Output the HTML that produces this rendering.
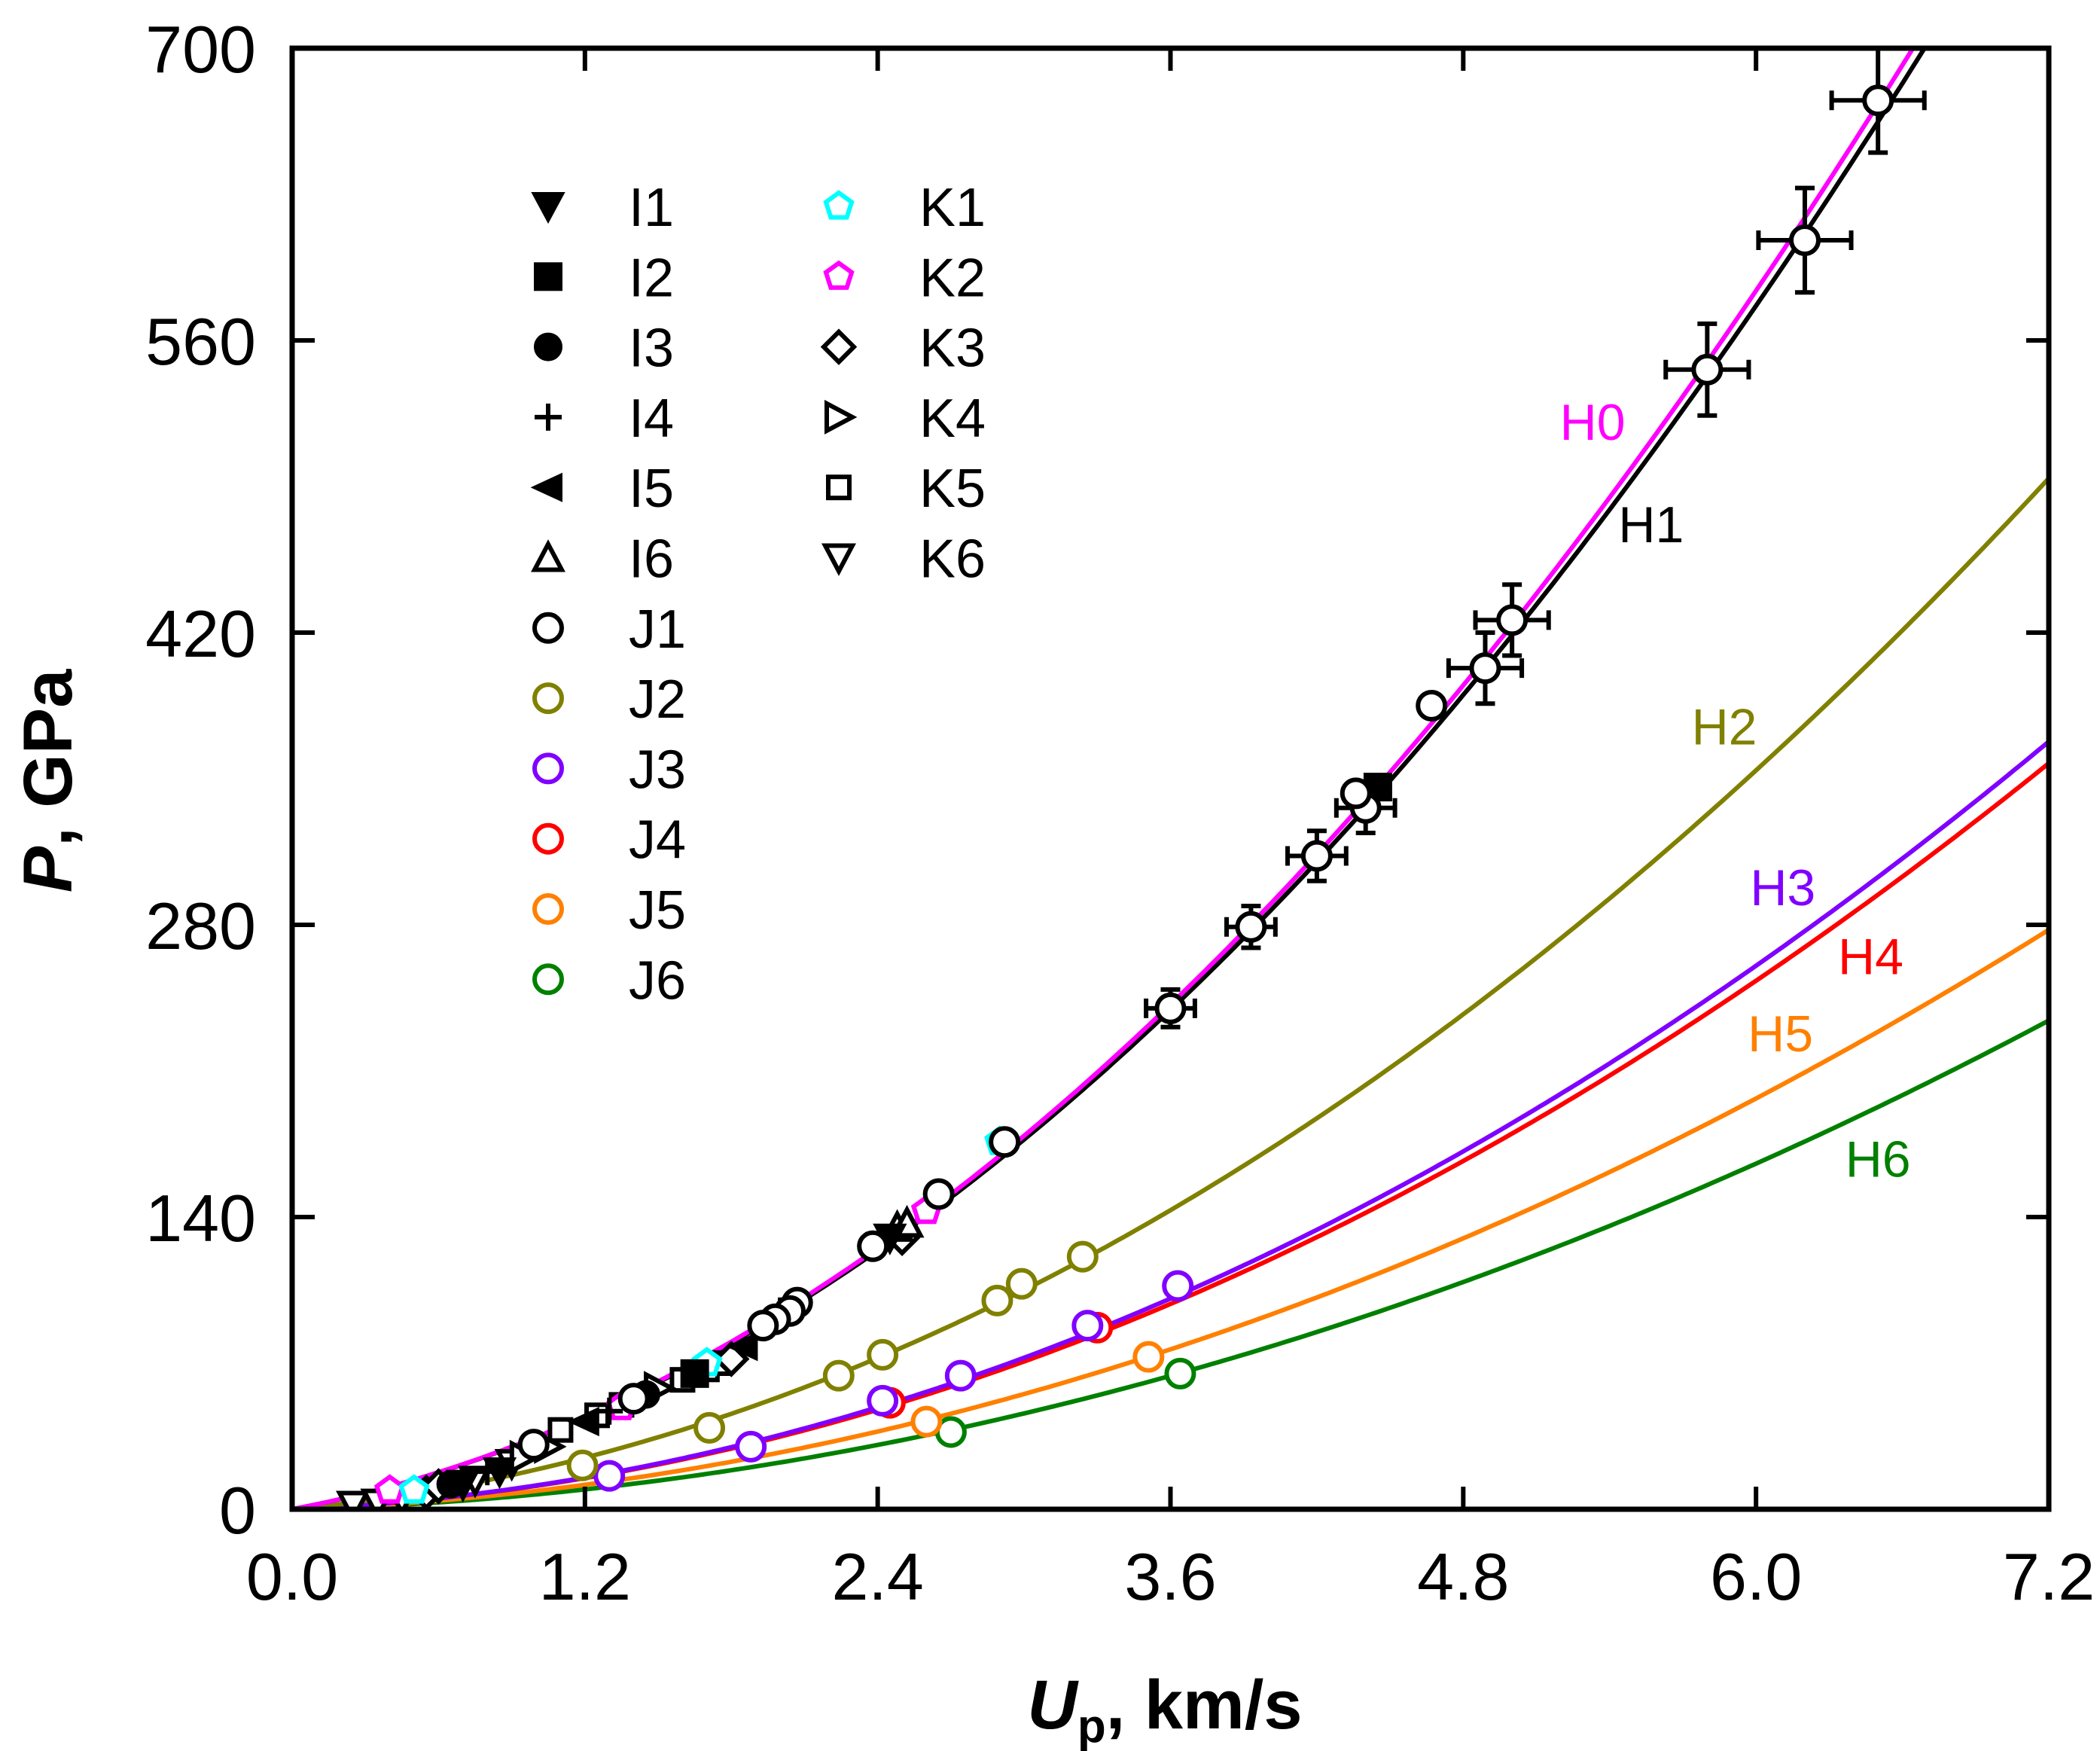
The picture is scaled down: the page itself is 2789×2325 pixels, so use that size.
<!DOCTYPE html>
<html><head><meta charset="utf-8"><style>
html,body{margin:0;padding:0;background:#fff}
svg{display:block}
text{font-family:"Liberation Sans",Arial,sans-serif}
</style></head><body>
<svg id="chart" width="2789" height="2325" viewBox="0 0 2789 2325" xmlns="http://www.w3.org/2000/svg"></svg>
<script>
// ---- data ----
const xTicks = [0.0, 1.2, 2.4, 3.6, 4.8, 6.0, 7.2];
const yTicks = [0, 140, 280, 420, 560, 700];
const curveNames = ['H0','H1','H2','H3','H4','H5','H6'];
const curveA = [22, 22, 11, 5, 5, 4, 3];          // linear coefficient (rho0*c0)
const curveB = [12.55, 12.35, 8, 6.4, 6.2, 4.8, 4.1]; // quadratic coefficient (rho0*s)
const curveColors = ['#ff00ff','#000000','#808000','#8000ff','#ff0000','#ff8000','#008000'];
const labelUp = [5.33, 5.57, 5.87, 6.11, 6.47, 6.10, 6.50];
const labelP  = [521, 472, 375, 298, 265, 228, 168];

const j1Up = [6.50,6.20,5.80,5.00,4.89,4.67,4.40,4.36,4.20,3.93,3.60,2.92,2.65,2.38,2.07,2.04,1.98,1.93,1.40,0.99];
const j1P  = [675,608,546,426,403,385,336,343,313,279,240,176,151,126,99,95,91,88,53,31];
const j1Ex = [0.19,0.19,0.17,0.15,0.15,0,0.12,0,0.12,0.1,0.1,0,0,0,0,0,0,0,0,0];
const j1Ey = [25,25,22,17,17,0,12,0,12,10,9,0,0,0,0,0,0,0,0,0];
const j2Up = [1.19,1.71,2.24,2.42,2.89,2.99,3.24];
const j2P  = [21,39,64,74,100,108,121];
const j3Up = [1.30,1.88,2.74,3.26,3.63,2.42];
const j3P  = [16,30,64,88,107,52];
const j4Up = [2.45,3.30];
const j4P  = [51,87];
const j5Up = [2.60,3.51];
const j5P  = [42,73];
const j6Up = [2.70,3.64];
const j6P  = [37,65];
const i1Up=[0.7,0.85,2.45]; const i1P=[12,18,130];
const i2Up=[4.45,1.65]; const i2P=[346,65];
const i3Up=[0.65,1.45]; const i3P=[12,55];
const i4Up=[0.8,1.3,2.0]; const i4P=[18,47,95];
const i5Up=[1.2,1.85]; const i5P=[42,78];
const i6Up=[2.48,2.52]; const i6P=[135,137];
const k1Up=[1.7,2.9,0.5]; const k1P=[70,176,9];
const k2Up=[0.4,2.6,1.35]; const k2P=[9,143,49];
const k3Up=[0.55,0.6,1.8,2.5]; const k3P=[8,11,72,130];
const k4Up=[0.95,1.05,1.5]; const k4P=[25,30,58];
const k5Up=[1.1,1.25,1.35,1.6,1.7,1.75]; const k5P=[38,45,50,62,67,70];
const k6Up=[0.25,0.35,0.45,0.7,0.75,0.9]; const k6P=[2,3,5,12,14,22];

// ---- layout ----
const L=388,R=2721,T=64,B=2004;
const X=v=>L+(v-0)/(7.2)*(R-L);
const Y=v=>B-(v-0)/700*(B-T);
const svg=document.getElementById('chart');
const NS='http://www.w3.org/2000/svg';
function mk(tag,attrs,parent){const e=document.createElementNS(NS,tag);for(const k in attrs)e.setAttribute(k,attrs[k]);(parent||svg).appendChild(e);return e;}

const clip=mk('clipPath',{id:'pc'});mk('rect',{x:L,y:T,width:R-L,height:B-T},clip);

// curves
const gc=mk('g',{'clip-path':'url(#pc)'});


for(let c=curveNames.length-1;c>=0;c--){
  let d='';
  for(let i=0;i<=300;i++){const u=7.2*i/300;const p=u*(curveA[c]+curveB[c]*u);d+=(i?'L':'M')+X(u).toFixed(1)+','+Y(p).toFixed(1);}
  const e=mk('path',{d:d,fill:'none',stroke:curveColors[c],'stroke-width':6},gc);
  
  
}
for(let c=0;c<curveNames.length;c++){
  const t=mk('text',{x:X(labelUp[c]),y:Y(labelP[c])+24,'font-size':68,fill:curveColors[c],'text-anchor':'middle'});
  t.textContent=curveNames[c];
  
  
}

// markers
function marker(type,cx,cy,color,parent){
  const s=18,sw=6;
  const open={fill:'#fff',stroke:color,'stroke-width':sw};
  const fill={fill:color,stroke:color,'stroke-width':2};
  let e;
  switch(type){
    case 'circle':e=mk('circle',Object.assign({cx,cy,r:s},open),parent);break;
    case 'fcircle':e=mk('circle',Object.assign({cx,cy,r:s},fill),parent);break;
    case 'fsquare':e=mk('rect',Object.assign({x:cx-s,y:cy-s,width:2*s,height:2*s},fill),parent);break;
    case 'square':e=mk('rect',Object.assign({x:cx-14,y:cy-14,width:28,height:28},open),parent);break;
    case 'plus':e=mk('path',{d:`M${cx-s},${cy}H${cx+s}M${cx},${cy-s}V${cy+s}`,stroke:color,'stroke-width':6},parent);break;
    case 'fdown':e=mk('polygon',Object.assign({points:`${cx-s-3},${cy-s} ${cx+s+3},${cy-s} ${cx},${cy+s+3}`},fill),parent);break;
    case 'down':e=mk('polygon',Object.assign({points:`${cx-s},${cy-s+2} ${cx+s},${cy-s+2} ${cx},${cy+s}`},open),parent);break;
    case 'up':e=mk('polygon',Object.assign({points:`${cx-s},${cy+s-2} ${cx+s},${cy+s-2} ${cx},${cy-s}`},open),parent);break;
    case 'fleft':e=mk('polygon',Object.assign({points:`${cx+s},${cy-s} ${cx+s},${cy+s} ${cx-s-3},${cy}`},fill),parent);break;
    case 'right':e=mk('polygon',Object.assign({points:`${cx-s+2},${cy-s} ${cx-s+2},${cy+s} ${cx+s},${cy}`},open),parent);break;
    case 'diamond':e=mk('polygon',Object.assign({points:`${cx},${cy-s-2} ${cx+s+2},${cy} ${cx},${cy+s+2} ${cx-s-2},${cy}`},open),parent);break;
    case 'pent':{let p=[];for(let k=0;k<5;k++){const a=-Math.PI/2+k*2*Math.PI/5;p.push((cx+s*Math.cos(a)).toFixed(1)+','+(cy+s*Math.sin(a)).toFixed(1));}
      e=mk('polygon',Object.assign({points:p.join(' ')},open),parent);break;}
  }
  return e;
}
const series=[
 ['k6',k6Up,k6P,'down','#000'],['k5',k5Up,k5P,'square','#000'],['k4',k4Up,k4P,'right','#000'],
 ['k3',k3Up,k3P,'diamond','#000'],['k2',k2Up,k2P,'pent','#ff00ff'],['k1',k1Up,k1P,'pent','#00ffff'],
 ['i6',i6Up,i6P,'up','#000'],['i5',i5Up,i5P,'fleft','#000'],['i4',i4Up,i4P,'plus','#000'],
 ['i3',i3Up,i3P,'fcircle','#000'],['i2',i2Up,i2P,'fsquare','#000'],['i1',i1Up,i1P,'fdown','#000'],
 ['j6',j6Up,j6P,'circle','#008000'],['j5',j5Up,j5P,'circle','#ff8000'],['j4',j4Up,j4P,'circle','#ff0000'],
 ['j3',j3Up,j3P,'circle','#8000ff'],['j2',j2Up,j2P,'circle','#808000']
];
const gm=mk('g',{'clip-path':'url(#pc)'});
for(const [nm,xs,ys,type,col] of series){
  for(let i=0;i<xs.length;i++){
    const e=marker(type,X(xs[i]),Y(ys[i]),col,gm);
    
    
  }
}
// J1 with error bars
for(let i=0;i<j1Up.length;i++){
  const cx=X(j1Up[i]),cy=Y(j1P[i]);
  if(j1Ex[i]>0){
    const x1=X(j1Up[i]-j1Ex[i]),x2=X(j1Up[i]+j1Ex[i]),y1=Y(j1P[i]+j1Ey[i]),y2=Y(j1P[i]-j1Ey[i]);
    const eb=mk('path',{d:`M${x1},${cy}H${x2}M${x1},${cy-13}V${cy+13}M${x2},${cy-13}V${cy+13}M${cx},${y1}V${y2}M${cx-13},${y1}H${cx+13}M${cx-13},${y2}H${cx+13}`,stroke:'#000','stroke-width':6,fill:'none'},gm);
    
    
  }
  const e=marker('circle',cx,cy,'#000',gm);
  
  
}

// axes frame + ticks
const fr=mk('rect',{x:L,y:T,width:R-L,height:B-T,fill:'none',stroke:'#000','stroke-width':7});


for(const v of xTicks){
  const x=X(v);
  const tk=mk('path',{d:`M${x},${B}V${B-30}M${x},${T}V${T+30}`,stroke:'#000','stroke-width':6});
  
  
  const t=mk('text',{x:x,y:B+120,'font-size':88,'text-anchor':'middle'});
  t.textContent=v.toFixed(1);
  
  
}
for(const v of yTicks){
  const y=Y(v);
  const tk=mk('path',{d:`M${L},${y}H${L+30}M${R},${y}H${R-30}`,stroke:'#000','stroke-width':6});
  
  
  const t=mk('text',{x:L-48,y:y+32,'font-size':88,'text-anchor':'end'});
  t.textContent=String(v);
  
  
}
// axis titles
const xt=mk('text',{x:1547,y:2295,'font-size':92,'font-weight':'bold','text-anchor':'middle'});
xt.innerHTML='<tspan font-style="italic">U</tspan><tspan font-size="62" dy="18">p</tspan><tspan dy="-18">, km/s</tspan>';


const yt=mk('text',{x:0,y:0,'font-size':92,'font-weight':'bold','text-anchor':'middle',transform:'translate(95,1037) rotate(-90)'});
yt.innerHTML='<tspan font-style="italic">P</tspan>, GPa';



// legend
const legend=[['I1','fdown','#000'],['I2','fsquare','#000'],['I3','fcircle','#000'],['I4','plus','#000'],['I5','fleft','#000'],['I6','up','#000'],
 ['J1','circle','#000'],['J2','circle','#808000'],['J3','circle','#8000ff'],['J4','circle','#ff0000'],['J5','circle','#ff8000'],['J6','circle','#008000'],
 ['K1','pent','#00ffff'],['K2','pent','#ff00ff'],['K3','diamond','#000'],['K4','right','#000'],['K5','square','#000'],['K6','down','#000']];
const gl=mk('g',{});


legend.forEach((it,i)=>{
  const col=i<12?0:1,row=i<12?i:i-12;
  const mx=col?1114:728,tx=col?1221:835,y=274+row*93.3;
  const g=mk('g',{},gl);
  
  
  marker(it[1],mx,y,it[2],g);
  const t=mk('text',{x:tx,y:y+26,'font-size':72},g);
  t.textContent=it[0];
});
</script>
</body></html>
